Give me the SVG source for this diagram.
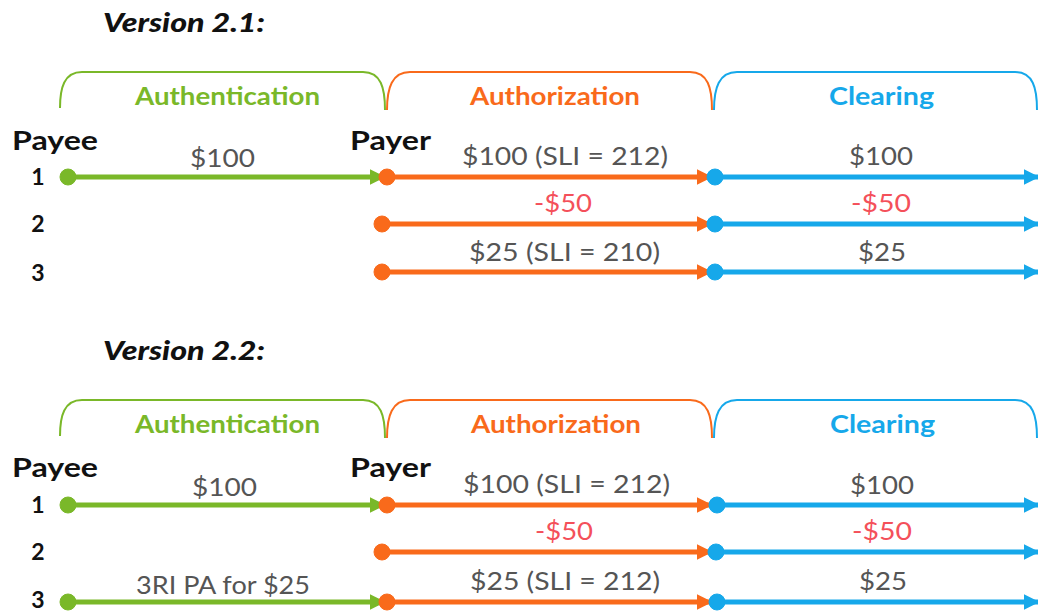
<svg xmlns="http://www.w3.org/2000/svg" width="1038" height="611" viewBox="0 0 1038 611">
  <style>
    .title { font-family: Lato, "Open Sans", sans-serif; font-weight: 900; font-style: italic; font-size: 26px; fill: #111; }
    .phase { font-family: Lato, "Open Sans", sans-serif; font-weight: 700; font-size: 24px; }
    .party { font-family: Lato, "Open Sans", sans-serif; font-weight: 700; font-size: 26px; fill: #111; }
    .num { font-family: Lato, "Open Sans", sans-serif; font-weight: 700; font-size: 23px; fill: #111; text-anchor: middle; }
    .amt { font-family: Lato, "Open Sans", sans-serif; font-size: 25px; fill: #555; }
    .neg { fill: #f4505a; }
    .brk { fill: none; stroke-width: 2; }
    .ln { stroke-width: 5; fill: none; }
    .g { stroke: #7ab829; fill: #7ab829; }
    .o { stroke: #f96a1b; fill: #f96a1b; }
    .b { stroke: #16a8ea; fill: #16a8ea; }
  </style>
  <defs>
    <marker id="ah-g" viewBox="0 0 10 10" refX="9" refY="5" markerWidth="3.2" markerHeight="3.2" orient="auto" markerUnits="strokeWidth">
      <path d="M0,0 L10,5 L0,10 Z" fill="#7ab829"/>
    </marker>
    <marker id="ah-o" viewBox="0 0 10 10" refX="9" refY="5" markerWidth="3.2" markerHeight="3.2" orient="auto" markerUnits="strokeWidth">
      <path d="M0,0 L10,5 L0,10 Z" fill="#f96a1b"/>
    </marker>
    <marker id="ah-b" viewBox="0 0 10 10" refX="9" refY="5" markerWidth="3.2" markerHeight="3.2" orient="auto" markerUnits="strokeWidth">
      <path d="M0,0 L10,5 L0,10 Z" fill="#16a8ea"/>
    </marker>
  </defs>
  <rect width="1038" height="611" fill="#fff"/>

  <!-- Version 2.1 -->
  <g id="v21">
    <text class="title" x="103" y="32" textLength="162" lengthAdjust="spacingAndGlyphs">Version 2.1:</text>
    <g id="v21-phases">
      <path class="brk" stroke="#7ab829" d="M60,108 C60,88 64,72 82,72 L363,72 C381,72 385,88 385,110"/>
      <path class="brk" stroke="#f96a1b" d="M387,110 C387,88 392,72 410,72 L690,72 C708,72 712,88 712,110"/>
      <path class="brk" stroke="#16a8ea" d="M714,110 C714,88 719,72 737,72 L1015,72 C1033,72 1037,88 1037,110"/>
      <text class="phase" x="135" y="105" fill="#7ab829" textLength="185" lengthAdjust="spacingAndGlyphs">Authentication</text>
      <text class="phase" x="470" y="105" fill="#f96a1b" textLength="170" lengthAdjust="spacingAndGlyphs">Authorization</text>
      <text class="phase" x="829" y="105" fill="#16a8ea" textLength="105" lengthAdjust="spacingAndGlyphs">Clearing</text>
    </g>
    <g id="v21-labels">
      <text class="party" x="12" y="150" textLength="86" lengthAdjust="spacingAndGlyphs">Payee</text>
      <text class="party" x="350" y="150" textLength="81" lengthAdjust="spacingAndGlyphs">Payer</text>
      <text class="num" x="38" y="185">1</text>
      <text class="num" x="38" y="232">2</text>
      <text class="num" x="38" y="281">3</text>
      <text class="amt" x="190" y="167" textLength="65" lengthAdjust="spacingAndGlyphs">$100</text>
      <text class="amt" x="462" y="165" textLength="206" lengthAdjust="spacingAndGlyphs">$100 (SLI = 212)</text>
      <text class="amt neg" x="534" y="212" textLength="58" lengthAdjust="spacingAndGlyphs">-$50</text>
      <text class="amt" x="469" y="261" textLength="191" lengthAdjust="spacingAndGlyphs">$25 (SLI = 210)</text>
      <text class="amt" x="849" y="165" textLength="64" lengthAdjust="spacingAndGlyphs">$100</text>
      <text class="amt neg" x="851" y="212" textLength="60" lengthAdjust="spacingAndGlyphs">-$50</text>
      <text class="amt" x="858" y="261" textLength="48" lengthAdjust="spacingAndGlyphs">$25</text>
    </g>
    <g id="v21-connectors">
      <line class="ln g" x1="68" y1="177" x2="384" y2="177" marker-end="url(#ah-g)"/>
      <circle class="g" cx="68" cy="177" r="8"/>
      <line class="ln o" x1="385" y1="177" x2="711" y2="177" marker-end="url(#ah-o)"/>
      <line class="ln o" x1="382" y1="224" x2="711" y2="224" marker-end="url(#ah-o)"/>
      <line class="ln o" x1="382" y1="272" x2="711" y2="272" marker-end="url(#ah-o)"/>
      <circle class="o" cx="387" cy="177" r="8"/>
      <circle class="o" cx="382" cy="224" r="8"/>
      <circle class="o" cx="382" cy="272" r="8"/>
      <line class="ln b" x1="715" y1="177" x2="1038" y2="177" marker-end="url(#ah-b)"/>
      <line class="ln b" x1="715" y1="224" x2="1038" y2="224" marker-end="url(#ah-b)"/>
      <line class="ln b" x1="715" y1="272" x2="1038" y2="272" marker-end="url(#ah-b)"/>
      <circle class="b" cx="715" cy="177" r="8"/>
      <circle class="b" cx="715" cy="224" r="8"/>
      <circle class="b" cx="715" cy="272" r="8"/>
    </g>
  </g>

  <!-- Version 2.2 -->
  <g id="v22">
    <text class="title" x="103" y="360" textLength="162" lengthAdjust="spacingAndGlyphs">Version 2.2:</text>
    <g id="v22-phases">
      <path class="brk" stroke="#7ab829" d="M60,436 C60,416 64,400 82,400 L363,400 C381,400 385,416 385,438"/>
      <path class="brk" stroke="#f96a1b" d="M387,438 C387,416 392,400 410,400 L690,400 C708,400 712,416 712,438"/>
      <path class="brk" stroke="#16a8ea" d="M714,438 C714,416 719,400 737,400 L1015,400 C1033,400 1037,416 1037,438"/>
      <text class="phase" x="135" y="433" fill="#7ab829" textLength="185" lengthAdjust="spacingAndGlyphs">Authentication</text>
      <text class="phase" x="471" y="433" fill="#f96a1b" textLength="170" lengthAdjust="spacingAndGlyphs">Authorization</text>
      <text class="phase" x="830" y="433" fill="#16a8ea" textLength="105" lengthAdjust="spacingAndGlyphs">Clearing</text>
    </g>
    <g id="v22-labels">
      <text class="party" x="12" y="477" textLength="86" lengthAdjust="spacingAndGlyphs">Payee</text>
      <text class="party" x="350" y="477" textLength="81" lengthAdjust="spacingAndGlyphs">Payer</text>
      <text class="num" x="38" y="513">1</text>
      <text class="num" x="38" y="560">2</text>
      <text class="num" x="38" y="608">3</text>
      <text class="amt" x="192" y="496" textLength="65" lengthAdjust="spacingAndGlyphs">$100</text>
      <text class="amt" x="136" y="594" textLength="174" lengthAdjust="spacingAndGlyphs">3RI PA for $25</text>
      <text class="amt" x="463" y="493" textLength="207" lengthAdjust="spacingAndGlyphs">$100 (SLI = 212)</text>
      <text class="amt neg" x="535" y="540" textLength="58" lengthAdjust="spacingAndGlyphs">-$50</text>
      <text class="amt" x="470" y="590" textLength="190" lengthAdjust="spacingAndGlyphs">$25 (SLI = 212)</text>
      <text class="amt" x="850" y="494" textLength="64" lengthAdjust="spacingAndGlyphs">$100</text>
      <text class="amt neg" x="852" y="540" textLength="60" lengthAdjust="spacingAndGlyphs">-$50</text>
      <text class="amt" x="859" y="590" textLength="48" lengthAdjust="spacingAndGlyphs">$25</text>
    </g>
    <g id="v22-connectors">
      <line class="ln g" x1="68" y1="505" x2="384" y2="505" marker-end="url(#ah-g)"/>
      <line class="ln g" x1="68" y1="602" x2="384" y2="602" marker-end="url(#ah-g)"/>
      <circle class="g" cx="68" cy="505" r="8"/>
      <circle class="g" cx="68" cy="602" r="8"/>
      <line class="ln o" x1="386" y1="505" x2="711" y2="505" marker-end="url(#ah-o)"/>
      <line class="ln o" x1="382" y1="552" x2="711" y2="552" marker-end="url(#ah-o)"/>
      <line class="ln o" x1="386" y1="602" x2="711" y2="602" marker-end="url(#ah-o)"/>
      <circle class="o" cx="387" cy="505" r="8"/>
      <circle class="o" cx="382" cy="552" r="8"/>
      <circle class="o" cx="387" cy="602" r="8"/>
      <line class="ln b" x1="716" y1="505" x2="1038" y2="505" marker-end="url(#ah-b)"/>
      <line class="ln b" x1="716" y1="552" x2="1038" y2="552" marker-end="url(#ah-b)"/>
      <line class="ln b" x1="716" y1="602" x2="1038" y2="602" marker-end="url(#ah-b)"/>
      <circle class="b" cx="717" cy="505" r="8"/>
      <circle class="b" cx="716" cy="552" r="8"/>
      <circle class="b" cx="717" cy="602" r="8"/>
    </g>
  </g>
</svg>
